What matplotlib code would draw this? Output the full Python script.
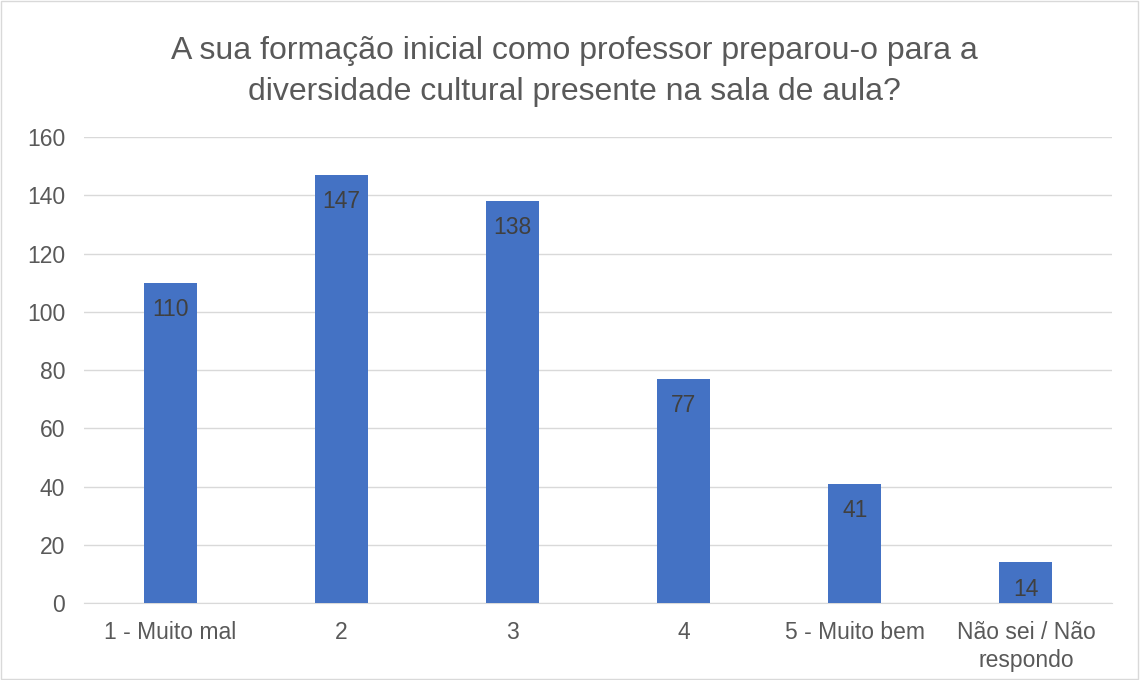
import matplotlib.pyplot as plt
from matplotlib.patches import Rectangle

categories = ["1 - Muito mal", "2", "3", "4", "5 - Muito bem", "Não sei / Não\nrespondo"]
counts = [110, 147, 138, 77, 41, 14]
y_ticks = [0, 20, 40, 60, 80, 100, 120, 140, 160]

plt.rcParams["font.family"] = ["Liberation Sans", "DejaVu Sans"]

fig = plt.figure(figsize=(11.4, 6.8), dpi=100)
ax = fig.add_axes([0.0741, 0.1132, 0.9009, 0.6853])

x = range(len(categories))
bars = ax.bar(x, counts, width=0.31, color="#4472C4", zorder=3)

for rect, value in zip(bars, counts):
    ax.annotate(
        str(value),
        (rect.get_x() + rect.get_width() / 2, rect.get_height()),
        xytext=(0, -11), textcoords="offset points",
        ha="center", va="top", fontsize=16.5, color="#404040", zorder=4,
    )

ax.set_xlim(-0.5, len(categories) - 0.5)
ax.set_ylim(0, 160)
ax.set_yticks(y_ticks)
ax.set_xticks(list(x))
ax.set_xticklabels(categories, fontsize=16.5, color="#595959", linespacing=1.25)
ax.tick_params(axis="y", labelsize=16.5, labelcolor="#595959", length=0, pad=14)
ax.tick_params(axis="x", length=0, pad=13)
ax.grid(axis="y", color="#D9D9D9", linewidth=1, zorder=0)
for side in ["top", "right", "left"]:
    ax.spines[side].set_visible(False)
ax.spines["bottom"].set_color("#D9D9D9")

fig.text(
    0.504, 0.895,
    "A sua formação inicial como professor preparou-o para a\ndiversidade cultural presente na sala de aula?",
    ha="center", va="center", fontsize=23, color="#595959", linespacing=1.5,
)

fig.patches.append(Rectangle((0.001, 0.001), 0.997, 0.997, transform=fig.transFigure,
                             fill=False, edgecolor="#D9D9D9", linewidth=1))

fig.savefig("out.png", dpi=100)
plt.close(fig)
